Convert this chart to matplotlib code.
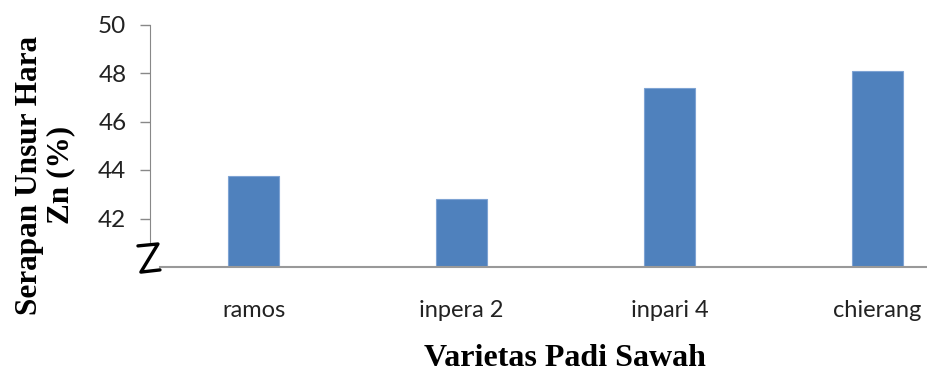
import matplotlib
matplotlib.use("Agg")
import matplotlib.pyplot as plt
from matplotlib.transforms import blended_transform_factory

varieties = ["ramos", "inpera 2", "inpari 4", "chierang"]
zn_uptake = [43.77, 42.81, 47.38, 48.07]
y_ticks = [42, 44, 46, 48, 50]

W, H = 927, 374
fig = plt.figure(figsize=(W / 100, H / 100), dpi=100)
ax = fig.add_axes([150 / W, 107 / H, 831 / W, 242.5 / H])

x = range(len(varieties))
ax.bar(x, zn_uptake, width=0.245, color="#4F81BD", edgecolor="#7EA3D3",
       linewidth=0.8, zorder=2)

ax.set_xlim(-0.5, 3.5)
ax.set_ylim(40, 50)
ax.set_yticks(y_ticks)
ax.set_yticklabels([str(t) for t in y_ticks], family="Lato", fontsize=17.5,
                   color="#222222")
ax.set_xticks(list(x))
ax.set_xticklabels(varieties, family="Lato", fontsize=17, color="#222222")
ax.tick_params(axis="y", length=7, width=1, color="#888888", pad=10)
ax.tick_params(axis="x", length=0, pad=24)

for side in ("top", "right"):
    ax.spines[side].set_visible(False)
ax.spines["left"].set_color("#888888")
ax.spines["left"].set_bounds(41.0, 50)
ax.spines["bottom"].set_color("#999999")
ax.spines["bottom"].set_linewidth(1.5)
ax.spines["bottom"].set_bounds(-0.5 + 0.0120 * 4, 3.5)

# axis break mark at the foot of the value axis
tr = blended_transform_factory(ax.transAxes, ax.transData)
ax.plot([-0.0145, 0.0096, -0.0110, 0.0120], [40.87, 40.95, 39.79, 39.88],
        color="black", lw=2.4, transform=tr, clip_on=False,
        solid_capstyle="round", solid_joinstyle="round", zorder=5)

fig.text(45 / W, 1 - 175 / H, "Serapan Unsur Hara\nZn (%)",
         family="Liberation Serif", fontweight="bold", fontsize=22.5,
         linespacing=1.12, rotation=90, ha="center", va="center",
         multialignment="center")
fig.text(565 / W, 1 / H, "Varietas Padi Sawah",
         family="Liberation Serif", fontweight="bold", fontsize=23,
         ha="center", va="bottom")

fig.savefig("out.png", dpi=100)
